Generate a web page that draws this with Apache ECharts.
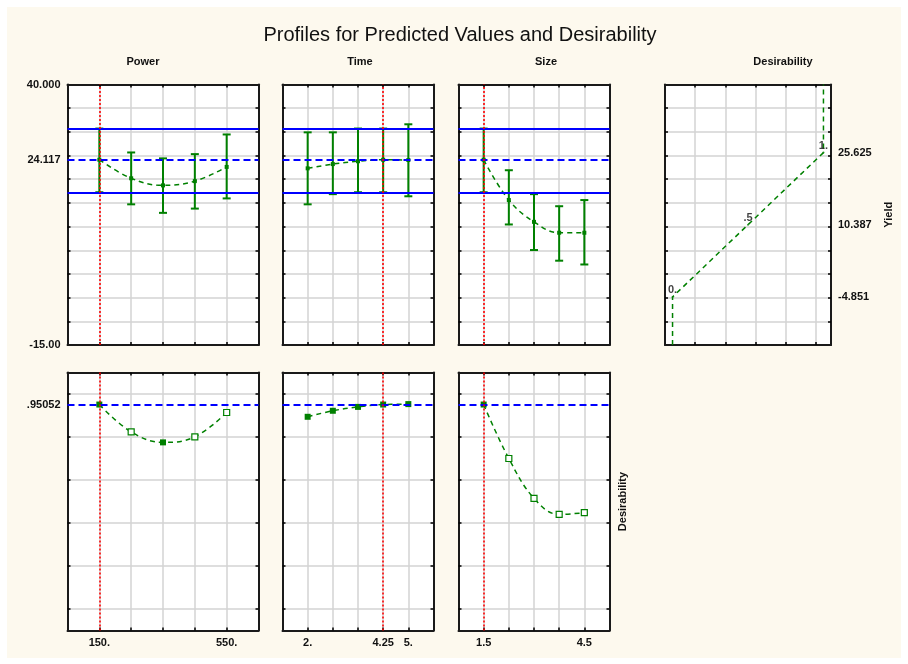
<!DOCTYPE html>
<html>
<head>
<meta charset="utf-8">
<title>Profiles for Predicted Values and Desirability</title>
<script src="https://cdn.jsdelivr.net/npm/echarts@6/dist/echarts.min.js"></script>
<style>
  html, body { margin: 0; padding: 0; background: #fff; }
  #paper { position: absolute; left: 7px; top: 7px; width: 894px; height: 651px; background: #fdf9ee; }
  #chart { position: absolute; left: 0; top: 0; width: 908px; height: 664px; }
</style>
</head>
<body>
<div id="paper"></div>
<div id="chart"></div>
<script>
// factor levels
const powerLevels = [150, 250, 350, 450, 550];
const timeLevels = [2, 2.75, 3.5, 4.25, 5];
const sizeLevels = [1.5, 2.25, 3, 3.75, 4.5];

// predicted yield with confidence limits
const powerYield = [24.117, 20.2, 18.7, 19.6, 22.6];
const powerLow = [17.25, 14.7, 12.9, 13.8, 15.95];
const powerHigh = [30.7, 25.65, 24.4, 25.3, 29.45];

const timeYield = [22.3, 23.2, 23.8, 24.117, 24.05];
const timeLow = [14.7, 16.85, 17.25, 17.25, 16.4];
const timeHigh = [29.9, 29.9, 30.7, 30.7, 31.6];

const sizeYield = [24.117, 15.6, 11.0, 8.7, 8.7];
const sizeLow = [17.25, 10.45, 5.05, 2.8, 2.0];
const sizeHigh = [30.7, 21.9, 16.85, 14.3, 15.6];

// desirability of each profile point
const powerDesir = [0.951, 0.824, 0.775, 0.801, 0.914];
const timeDesir = [0.894, 0.922, 0.940, 0.951, 0.953];
const sizeDesir = [0.951, 0.70, 0.515, 0.44, 0.448];

// current settings
const currentPower = 150;
const currentTime = 4.25;
const currentSize = 1.5;
const currentYield = 24.117;
const currentLow = 17.25;
const currentHigh = 30.7;
const currentDesir = 0.95052;

// desirability function for Yield
const desirLevels = [0, 0.5, 1];
const desirYield = [-4.851, 10.387, 25.625];
const desirText = ['0.', '.5', '1.'];

// axis ranges, grid ticks and tick labels
const yieldRange = [-15, 40];
const yieldTicks = [-10, -5, 0, 5, 10, 15, 20, 25, 30, 35];
const yieldLabelVals = [-15, 24.117, 40];
const yieldLabelText = ['-15.00', '24.117', '40.000'];
const desirRange = [-0.1, 1.1];
const desirTicks = [0, 0.2, 0.4, 0.6, 0.8, 1.0];
const desirLabelVals = [0.95052];
const desirLabelText = ['.95052'];
const desirXRange = [-0.05, 1.05];
const desirXTicks = [0.15, 0.35, 0.55, 0.75, 0.95];
const desirYieldText = ['-4.851', '10.387', '25.625'];
const powerRange = [50, 650];
const timeRange = [1.25, 5.75];
const sizeRange = [0.75, 5.25];
const powerLabelVals = [150, 550];
const powerLabelText = ['150.', '550.'];
const timeLabelVals = [2, 4.25, 5];
const timeLabelText = ['2.', '4.25', '5.'];
const sizeLabelVals = [1.5, 4.5];
const sizeLabelText = ['1.5', '4.5'];

const GREEN = '#008000';
const BLUE = '#0000ff';
const RED = '#ff0000';
const FONT = 'Arial, "Liberation Sans", sans-serif';

const chart = echarts.init(document.getElementById('chart'));

const grids = [
  { left: 67.5, top: 84.5, width: 191, height: 260.5 },
  { left: 282.5, top: 84.5, width: 151, height: 260.5 },
  { left: 458.5, top: 84.5, width: 151, height: 260.5 },
  { left: 665, top: 84.5, width: 166, height: 260.5 },
  { left: 67.5, top: 372.5, width: 191, height: 258 },
  { left: 282.5, top: 372.5, width: 151, height: 258 },
  { left: 458.5, top: 372.5, width: 151, height: 258 }
].map(g => Object.assign({ show: true, backgroundColor: '#fff', borderWidth: 0 }, g));

function nearest(vals, v) {
  let best = 0;
  vals.forEach((x, i) => { if (Math.abs(x - v) < Math.abs(vals[best] - v)) best = i; });
  return best;
}

function makeAxis(gridIndex, position, range, ticks, withGrid, labelVals, labelText, extra) {
  return Object.assign({
    type: 'value',
    gridIndex: gridIndex,
    position: position,
    min: range[0],
    max: range[1],
    axisLine: { show: true, onZero: false, lineStyle: { color: '#1a1a1a', width: 2 } },
    axisTick: { show: true, inside: true, length: 3, customValues: ticks, lineStyle: { color: '#000', width: 1.5 } },
    splitLine: { show: withGrid, lineStyle: { color: '#d3d3d3', width: 1.5 } },
    axisLabel: labelVals ? {
      show: true,
      customValues: labelVals,
      formatter: v => labelText[nearest(labelVals, v)],
      margin: 7,
      fontFamily: FONT,
      fontSize: 11,
      fontWeight: 'bold',
      color: '#111'
    } : { show: false }
  }, extra || {});
}

const xAxis = [];
const yAxis = [];
function addPanel(g, xr, xt, yr, yt, opts) {
  opts = opts || {};
  xAxis.push(makeAxis(g, 'bottom', xr, xt, true, opts.xLabels, opts.xText));
  xAxis.push(makeAxis(g, 'top', xr, xt, false));
  yAxis.push(makeAxis(g, 'left', yr, yt, true, opts.yLabels, opts.yText));
  yAxis.push(makeAxis(g, 'right', yr, yt, false, opts.rLabels, opts.rText, opts.rExtra));
}

const nameStyle = { fontFamily: FONT, fontSize: 11, fontWeight: 'bold', color: '#111' };

addPanel(0, powerRange, powerLevels, yieldRange, yieldTicks, { yLabels: yieldLabelVals, yText: yieldLabelText });
addPanel(1, timeRange, timeLevels, yieldRange, yieldTicks);
addPanel(2, sizeRange, sizeLevels, yieldRange, yieldTicks);
addPanel(3, desirXRange, desirXTicks, yieldRange, yieldTicks, {
  rLabels: desirYield, rText: desirYieldText,
  rExtra: { name: 'Yield', nameLocation: 'middle', nameRotate: 90, nameGap: 52, nameTextStyle: nameStyle }
});
addPanel(4, powerRange, powerLevels, desirRange, desirTicks, {
  xLabels: powerLabelVals, xText: powerLabelText, yLabels: desirLabelVals, yText: desirLabelText
});
addPanel(5, timeRange, timeLevels, desirRange, desirTicks, { xLabels: timeLabelVals, xText: timeLabelText });
addPanel(6, sizeRange, sizeLevels, desirRange, desirTicks, {
  xLabels: sizeLabelVals, xText: sizeLabelText,
  rExtra: { name: 'Desirability', nameLocation: 'middle', nameRotate: 90, nameGap: 8, nameTextStyle: nameStyle }
});

function errorBar(params, api) {
  const x = api.value(0);
  const lo = api.coord([x, api.value(1)]);
  const hi = api.coord([x, api.value(2)]);
  const w = 4;
  const style = { stroke: GREEN, lineWidth: 2 };
  return {
    type: 'group',
    children: [
      { type: 'line', shape: { x1: lo[0], y1: lo[1], x2: hi[0], y2: hi[1] }, style: style },
      { type: 'line', shape: { x1: lo[0] - w, y1: lo[1], x2: lo[0] + w, y2: lo[1] }, style: style },
      { type: 'line', shape: { x1: hi[0] - w, y1: hi[1], x2: hi[0] + w, y2: hi[1] }, style: style }
    ]
  };
}

const dashBlue = { color: BLUE, width: 2, type: [7, 4] };
const solidBlue = { color: BLUE, width: 1.8, type: 'solid' };
const dotRed = { color: RED, width: 1.6, type: [2, 2] };

function markLines(items) {
  return { silent: true, symbol: 'none', label: { show: false }, animation: false, data: items };
}

const series = [];
function addProfile(g, levels, yld, lo, hi, des, current, hollow) {
  series.push({
    type: 'custom', xAxisIndex: 2 * g, yAxisIndex: 2 * g,
    renderItem: errorBar,
    data: levels.map((x, i) => [x, lo[i], hi[i]]),
    z: 3
  });
  series.push({
    type: 'line', xAxisIndex: 2 * g, yAxisIndex: 2 * g,
    data: levels.map((x, i) => [x, yld[i]]),
    smooth: 0.4,
    symbol: 'rect', symbolSize: 4,
    itemStyle: { color: GREEN },
    lineStyle: { color: GREEN, width: 1.5, type: [5, 4] },
    markLine: markLines([
      { yAxis: currentLow, lineStyle: solidBlue },
      { yAxis: currentHigh, lineStyle: solidBlue },
      { yAxis: currentYield, lineStyle: dashBlue },
      { xAxis: current, lineStyle: dotRed }
    ]),
    z: 4
  });
  const b = g + 4;
  series.push({
    type: 'line', xAxisIndex: 2 * b, yAxisIndex: 2 * b,
    data: levels.map((x, i) => ({
      value: [x, des[i]],
      itemStyle: hollow.indexOf(i) >= 0 ? { color: '#fff', borderColor: GREEN, borderWidth: 1.2 } : { color: GREEN }
    })),
    smooth: 0.4,
    symbol: 'rect', symbolSize: 6,
    lineStyle: { color: GREEN, width: 1.5, type: [5, 4] },
    markLine: markLines([
      { yAxis: currentDesir, lineStyle: dashBlue },
      { xAxis: current, lineStyle: dotRed }
    ]),
    z: 4
  });
}

addProfile(0, powerLevels, powerYield, powerLow, powerHigh, powerDesir, currentPower, [1, 3, 4]);
addProfile(1, timeLevels, timeYield, timeLow, timeHigh, timeDesir, currentTime, []);
addProfile(2, sizeLevels, sizeYield, sizeLow, sizeHigh, sizeDesir, currentSize, [1, 2, 3, 4]);

// desirability function, extended to the axis limits
const desirPath = [[desirLevels[0], yieldRange[0]]]
  .concat(desirLevels.map((d, i) => [d, desirYield[i]]))
  .concat([[desirLevels[desirLevels.length - 1], yieldRange[1]]]);
series.push({
  type: 'line', xAxisIndex: 6, yAxisIndex: 6,
  data: desirPath,
  symbol: 'none',
  lineStyle: { color: GREEN, width: 1.5, type: [5, 4] },
  z: 4
});
series.push({
  type: 'scatter', xAxisIndex: 6, yAxisIndex: 6,
  data: desirLevels.map((d, i) => [d, desirYield[i]]),
  symbolSize: 2,
  itemStyle: { color: GREEN },
  label: {
    show: true, position: 'top', distance: 0,
    formatter: p => desirText[p.dataIndex],
    fontFamily: FONT, fontSize: 11, fontWeight: 'bold', color: '#111'
  },
  z: 5
});

function text(str, x, y, size, weight) {
  return {
    type: 'text', x: x, y: y, silent: true,
    style: {
      text: str, fill: '#111', font: weight + ' ' + size + 'px ' + FONT,
      align: 'center', verticalAlign: 'middle', textAlign: 'center', textVerticalAlign: 'middle'
    }
  };
}

chart.setOption({
  animation: false,
  grid: grids,
  xAxis: xAxis,
  yAxis: yAxis,
  series: series,
  graphic: [
    text('Profiles for Predicted Values and Desirability', 460, 35, 20, 'normal'),
    text('Power', 143, 62, 11, 'bold'),
    text('Time', 360, 62, 11, 'bold'),
    text('Size', 546, 62, 11, 'bold'),
    text('Desirability', 783, 62, 11, 'bold')
  ]
});
</script>
</body>
</html>
